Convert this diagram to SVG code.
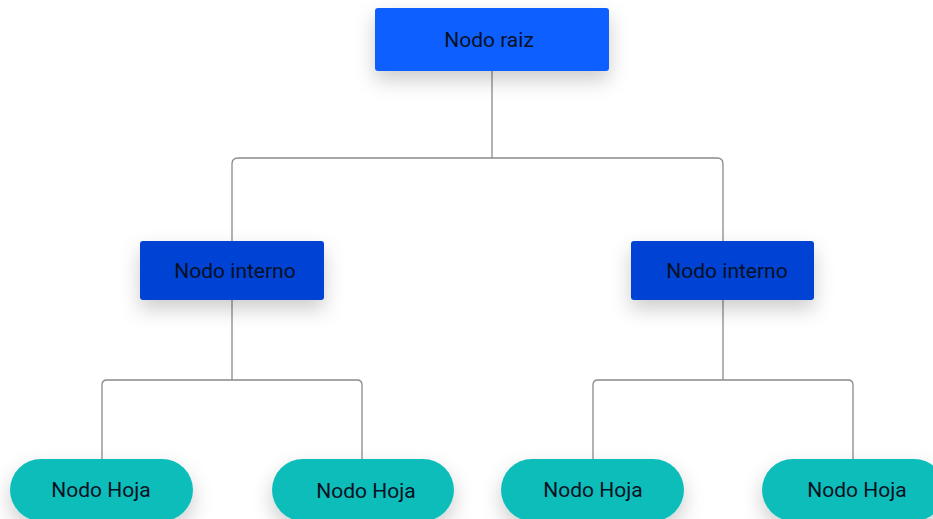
<svg xmlns="http://www.w3.org/2000/svg" width="933" height="519" viewBox="0 0 933 519">
<style>
.t{font-family:Roboto,"Liberation Sans",sans-serif;fill:#08111f;text-anchor:middle;dominant-baseline:central;font-size:21px}
.c{fill:none;stroke:#8a8a8a;stroke-width:1.3}
</style>
<defs>
<filter id="sh" x="-30%" y="-50%" width="160%" height="220%">
<feDropShadow dx="0" dy="9" stdDeviation="10" flood-color="#000" flood-opacity="0.2"/>
</filter>
</defs>
<rect width="933" height="519" fill="#fff"/>
<g id="connectors">
<path class="c" d="M492 71 V158"/>
<path class="c" d="M232 241 V164 Q232 158 238 158 H717 Q723 158 723 164 V241"/>
<path class="c" d="M232 300 V380"/>
<path class="c" d="M102 459 V385 Q102 380 107 380 H357 Q362 380 362 385 V459"/>
<path class="c" d="M723 300 V380"/>
<path class="c" d="M593 459 V385 Q593 380 598 380 H848 Q853 380 853 385 V459"/>
</g>
<g id="root">
<rect x="375" y="8" width="234" height="63" rx="3" fill="#1160ff" filter="url(#sh)"/>
<text class="t" x="489" y="40">Nodo raiz</text>
</g>
<g id="internal-left">
<rect x="140" y="241" width="184" height="59" rx="3" fill="#0042d4" filter="url(#sh)"/>
<text class="t" x="235" y="271">Nodo interno</text>
</g>
<g id="internal-right">
<rect x="631" y="241" width="183" height="59" rx="3" fill="#0042d4" filter="url(#sh)"/>
<text class="t" x="727" y="271">Nodo interno</text>
</g>
<g id="leaf1">
<rect x="10" y="459" width="183" height="62" rx="31" fill="#0bbdba" filter="url(#sh)"/>
<text class="t" x="101" y="490">Nodo Hoja</text>
</g>
<g id="leaf2">
<rect x="272" y="459" width="182" height="62" rx="31" fill="#0bbdba" filter="url(#sh)"/>
<text class="t" x="366" y="491">Nodo Hoja</text>
</g>
<g id="leaf3">
<rect x="501" y="459" width="183" height="62" rx="31" fill="#0bbdba" filter="url(#sh)"/>
<text class="t" x="593" y="490">Nodo Hoja</text>
</g>
<g id="leaf4">
<rect x="762" y="459" width="183" height="62" rx="31" fill="#0bbdba" filter="url(#sh)"/>
<text class="t" x="857" y="490">Nodo Hoja</text>
</g>
</svg>
